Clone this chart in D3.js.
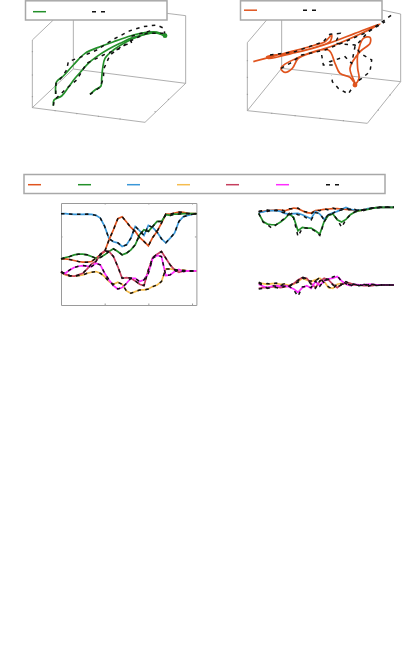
<!DOCTYPE html>
<html>
<head>
<meta charset="utf-8">
<script src="https://cdn.jsdelivr.net/npm/d3@7"></script>
<style>
    html, body { margin: 0; padding: 0; background: #fff; }
    svg { display: block; }
</style>
</head>
<body>
<svg id="chart" width="415" height="657"></svg>
<script>
// Values are read off the picture. 3d panels have no readable axes, so they are kept as
// [col, row] in the projected plane, the 2d ones as rows over a shared time axis.
const time = d3.range(32).map(i => i / 10);
const xTicks = [1, 2, 3];
const yTicks = [115, 218];

// left 2d panel
const leftBlue = [47, 47, 48, 49, 49, 49, 48, 49, 52, 60, 85, 122, 131, 134, 145, 140, 120, 85, 98, 112, 82, 88, 102, 122, 134, 120, 105, 70, 56, 52, 49, 47];
const leftOrange = [182, 182, 184, 187, 190, 192, 192, 190, 180, 170, 160, 125, 95, 62, 56, 72, 88, 100, 118, 130, 143, 118, 100, 75, 48, 48, 45, 42, 43, 46, 47, 47];
const leftGreen = [182, 178, 175, 170, 168, 168, 170, 175, 180, 178, 170, 160, 152, 160, 170, 165, 155, 140, 110, 95, 100, 85, 70, 70, 50, 52, 48, 48, 47, 47, 47, 47];
const leftYellow = [222, 230, 233, 234, 232, 230, 225, 222, 220, 225, 235, 250, 258, 252, 258, 278, 285, 280, 275, 275, 272, 265, 260, 250, 212, 212, 214, 216, 216, 218, 218, 218];
const leftRed = [220, 228, 232, 234, 230, 225, 212, 197, 190, 168, 158, 160, 175, 205, 240, 238, 240, 248, 258, 262, 215, 178, 168, 160, 180, 200, 215, 222, 218, 218, 218, 218];
const leftMagenta = [222, 225, 215, 208, 204, 202, 204, 205, 195, 200, 225, 245, 262, 272, 268, 255, 240, 240, 250, 245, 225, 180, 172, 175, 232, 230, 220, 214, 220, 218, 218, 218];

// right 2d panel, fit
const rightOrange = [42, 40, 38, 37, 36, 36, 38, 34, 30, 32, 38, 44, 45, 38, 36, 34, 33, 32, 32, 33, 34, 35, 38, 38, 36, 33, 30, 29, 28, 28, 28, 28];
const rightBlue = [44, 42, 38, 38, 38, 40, 46, 48, 47, 46, 50, 56, 62, 40, 48, 64, 50, 44, 40, 34, 28, 34, 36, 36, 36, 32, 30, 29, 28, 28, 28, 28];
const rightGreen = [46, 70, 78, 80, 80, 72, 62, 48, 58, 98, 88, 90, 90, 98, 108, 70, 52, 48, 65, 72, 64, 50, 42, 38, 36, 34, 31, 29, 28, 28, 28, 28];
const rightYellow = [255, 256, 258, 256, 256, 258, 258, 262, 258, 250, 240, 245, 250, 245, 240, 250, 268, 270, 258, 255, 258, 258, 260, 260, 260, 260, 260, 260, 260, 260, 260, 260];
const rightRed = [270, 268, 268, 266, 266, 268, 266, 262, 256, 245, 238, 240, 255, 268, 250, 240, 245, 258, 268, 258, 252, 255, 260, 260, 262, 262, 262, 260, 260, 260, 260, 260];
const rightMagenta = [258, 264, 268, 264, 262, 264, 262, 266, 272, 282, 268, 262, 270, 250, 262, 248, 242, 240, 235, 248, 258, 262, 258, 260, 260, 258, 258, 260, 260, 260, 260, 260];

// right 2d panel, dashed reference lines
const rightOrangeTruth = [40, 38, 40, 36, 38, 34, 40, 32, 32, 30, 40, 42, 48, 36, 38, 32, 36, 30, 34, 32, 36, 34, 40, 36, 38, 32, 31, 28, 28, 28, 28, 28];
const rightBlueTruth = [42, 38, 36, 40, 36, 42, 44, 50, 44, 50, 52, 60, 66, 44, 46, 66, 48, 46, 38, 36, 30, 36, 34, 40, 34, 32, 30, 29, 28, 28, 28, 28];
const rightGreenTruth = [46, 72, 80, 90, 80, 70, 60, 46, 60, 115, 90, 90, 92, 100, 112, 72, 50, 48, 64, 88, 64, 50, 42, 38, 36, 34, 31, 29, 28, 28, 28, 28];
const rightYellowTruth = [252, 258, 256, 258, 254, 260, 256, 264, 256, 252, 238, 248, 248, 248, 238, 254, 266, 272, 256, 258, 256, 260, 258, 262, 258, 262, 258, 262, 260, 260, 260, 260];
const rightRedTruth = [272, 270, 270, 268, 268, 270, 264, 264, 254, 247, 236, 242, 258, 270, 248, 242, 243, 260, 266, 260, 250, 257, 258, 262, 260, 264, 260, 262, 260, 260, 260, 260];
const rightMagentaTruth = [255, 262, 270, 262, 264, 262, 264, 264, 274, 294, 266, 264, 268, 248, 264, 246, 244, 236, 232, 250, 256, 264, 256, 262, 258, 260, 256, 262, 260, 260, 260, 260];

// left 3d panel
const greenTrackA = [[100, 317], [102, 300], [125, 288], [145, 262], [165, 235], [185, 212], [205, 190], [230, 170], [265, 148], [300, 130], [340, 112], [380, 102], [410, 98], [435, 107]];
const greenTrackB = [[107, 282], [110, 245], [130, 228], [160, 195], [195, 160], [240, 140], [290, 122], [340, 105], [380, 97], [410, 96], [435, 107]];
const greenTrackC = [[210, 283], [225, 270], [243, 258], [245, 235], [248, 205], [255, 175], [280, 150], [320, 125], [360, 108], [400, 98], [435, 107]];
const greenTruthA = [[100, 317], [103, 300], [140, 265], [170, 240], [200, 190], [250, 165], [300, 145], [340, 118], [380, 100], [435, 100]];
const greenTruthB = [[107, 282], [108, 250], [125, 232], [140, 210], [145, 185], [180, 172], [230, 150], [280, 118], [330, 92], [370, 80], [410, 75], [432, 85], [435, 107]];
const greenTruthC = [[210, 283], [240, 262], [250, 235], [252, 205], [270, 165], [310, 135], [335, 130], [330, 110], [400, 90]];

// right 3d panel
const orangeTrack = [[55, 185], [110, 170], [180, 152], [240, 135], [270, 125], [290, 105], [285, 125], [250, 140], [180, 158], [100, 175], [95, 170], [180, 158], [280, 130], [360, 100], [435, 72], [380, 100], [300, 135], [240, 155], [190, 175], [172, 205], [150, 217], [138, 205], [185, 175], [280, 150], [300, 190], [315, 220], [345, 232], [360, 250], [345, 205], [375, 155], [405, 130], [405, 112], [385, 115], [368, 165], [368, 205], [372, 235], [360, 255]];
const orangeTruthA = [[138, 205], [165, 190], [200, 165], [270, 150], [330, 125], [400, 95], [470, 45]];
const orangeTruthB = [[105, 165], [180, 155], [265, 125], [285, 103], [315, 100], [300, 130], [360, 135], [375, 160], [410, 180], [405, 215], [380, 235], [360, 250], [340, 282], [310, 265], [292, 245], [290, 225]];
const orangeTruthC = [[260, 165], [265, 195], [295, 195], [285, 185], [330, 170], [350, 190], [360, 140], [400, 95], [450, 65]];

// box corners of the 3d panels, same units
const leftBox = [[[37, 323], [375, 367], [497, 250], [160, 207], [37, 323]], [[37, 323], [37, 120], [100, 60]], [[160, 207], [160, 60]], [[497, 250], [497, 47], [440, 40]]];
const rightBox = [[[37, 332], [397, 370], [497, 245], [140, 205], [37, 332]], [[37, 332], [37, 128], [95, 60]], [[140, 205], [140, 60]], [[497, 245], [497, 42], [440, 30]]];
const leftBoxTicks = [[37, 155], [37, 225], [37, 290], [105, 332], [170, 341], [235, 349], [300, 357], [405, 335], [445, 298]];
const rightBoxTicks = [[37, 182], [37, 232], [37, 283], [110, 340], [180, 347], [255, 355], [325, 362], [430, 330], [465, 285]];

const legendColors = ['#e0541e', '#23902a', '#3a97d8', '#f5bd4f', '#c63f5e', '#ff2cff'];
const legendColumns = [28, 78, 127, 177, 226, 276];

const axisGrey = '#9a9a9a';
const orange = legendColors[0], green = legendColors[1], blue = legendColors[2];
const yellow = legendColors[3], red = legendColors[4], magenta = legendColors[5];

const svg = d3.select('#chart');

// 3d panels
const xLeft3d = d3.scaleLinear().domain([0, 540]).range([20, 200]);
const xRight3d = d3.scaleLinear().domain([0, 540]).range([235, 415]);
const y3d = d3.scaleLinear().domain([0, 390]).range([0, 130]);

function draw3d(x, box, ticks, tracks, truths, color) {
    const g = svg.append('g');
    const line = d3.line().x(d => x(d[0])).y(d => y3d(d[1]));
    const curve = d3.line().x(d => x(d[0])).y(d => y3d(d[1])).curve(d3.curveCatmullRom.alpha(0.5));

    g.selectAll('.box').data(box).enter().append('path')
        .attr('d', line).attr('fill', 'none').attr('stroke', axisGrey).attr('stroke-width', 0.8);
    g.selectAll('.tick').data(ticks).enter().append('rect')
        .attr('x', d => x(d[0]) - 0.5).attr('y', d => y3d(d[1]) - 0.5)
        .attr('width', 1.2).attr('height', 1).attr('fill', axisGrey);
    g.selectAll('.track').data(tracks).enter().append('path')
        .attr('d', curve).attr('fill', 'none').attr('stroke', color).attr('stroke-width', 1.7);
    g.selectAll('.truth').data(truths).enter().append('path')
        .attr('d', line).attr('fill', 'none').attr('stroke', '#111')
        .attr('stroke-width', 1.5).attr('stroke-dasharray', '3.5 4.5');

    const last = tracks[0][tracks[0].length - 1];
    g.append('circle').attr('cx', x(last[0])).attr('cy', y3d(last[1])).attr('r', 2.4).attr('fill', color);
}

draw3d(xLeft3d, leftBox, leftBoxTicks, [greenTrackA, greenTrackB, greenTrackC], [greenTruthA, greenTruthB, greenTruthC], green);
draw3d(xRight3d, rightBox, rightBoxTicks, [orangeTrack], [orangeTruthA, orangeTruthB, orangeTruthC], orange);

// 2d panels
const y2d = d3.scaleLinear().domain([15, 320]).range([203, 305]);
const xLeft = d3.scaleLinear().domain([0, 3.1]).range([61, 196.4]);
const xRight = d3.scaleLinear().domain([0, 3.1]).range([258.7, 394]);

function drawSeries(x, series, truths, colors) {
    const line = d3.line()
        .x((d, i) => x(time[i]))
        .y(d => y2d(d));
    const g = svg.append('g');
    g.selectAll('.pred').data(series).enter().append('path')
        .attr('d', line).attr('fill', 'none')
        .attr('stroke', (d, i) => colors[i]).attr('stroke-width', 1.7);
    g.selectAll('.truth').data(truths).enter().append('path')
        .attr('d', line).attr('fill', 'none').attr('stroke', '#111')
        .attr('stroke-width', 1.5).attr('stroke-dasharray', '3.5 4.5');
}

// frame only on the left panel, the right one has none in the picture
const frame = svg.append('g');
[[d3.axisTop(xLeft), 203], [d3.axisBottom(xLeft), 305]].forEach(([axis, dy]) => {
    const a = frame.append('g').attr('transform', `translate(0,${dy})`)
        .call(axis.tickValues(xTicks).tickSize(-1.5).tickSizeOuter(0).tickFormat(''));
    a.selectAll('path, line').attr('stroke', axisGrey);
});
[[d3.axisLeft(y2d), 61], [d3.axisRight(y2d), 196.4]].forEach(([axis, dx]) => {
    const a = frame.append('g').attr('transform', `translate(${dx},0)`)
        .call(axis.tickValues(yTicks).tickSize(-1.5).tickSizeOuter(0).tickFormat(''));
    a.selectAll('path, line').attr('stroke', axisGrey);
});

const leftSeries = [leftBlue, leftOrange, leftGreen, leftYellow, leftRed, leftMagenta];
drawSeries(xLeft, leftSeries, leftSeries, [blue, orange, green, yellow, red, magenta]);
drawSeries(xRight,
    [rightOrange, rightBlue, rightGreen, rightYellow, rightRed, rightMagenta],
    [rightOrangeTruth, rightBlueTruth, rightGreenTruth, rightYellowTruth, rightRedTruth, rightMagentaTruth],
    [orange, blue, green, yellow, red, magenta]);

// legends
function legendBox(left, top, width, height) {
    svg.append('rect').attr('x', left).attr('y', top).attr('width', width).attr('height', height)
        .attr('fill', '#fff').attr('stroke', '#a8a8a8').attr('stroke-width', 1.5);
}

function legendLine(x0, y, color, dashed) {
    const l = svg.append('line').attr('x1', x0).attr('x2', x0 + 13).attr('y1', y).attr('y2', y)
        .attr('stroke', color).attr('stroke-width', 1.5);
    if (dashed) l.attr('stroke-dasharray', '4 5');
}

legendBox(25.5, 0.8, 141.5, 19.2);
legendLine(33, 11.7, green);
legendLine(92, 11.7, '#111', true);

legendBox(240.5, 0.8, 141.5, 19.2);
legendLine(244, 10.2, orange);
legendLine(303, 10.2, '#111', true);

legendBox(24, 174.5, 361, 19);
legendColumns.forEach((c, i) => legendLine(c, 184.7, legendColors[i]));
legendLine(326, 184.7, '#111', true);
</script>
</body>
</html>
